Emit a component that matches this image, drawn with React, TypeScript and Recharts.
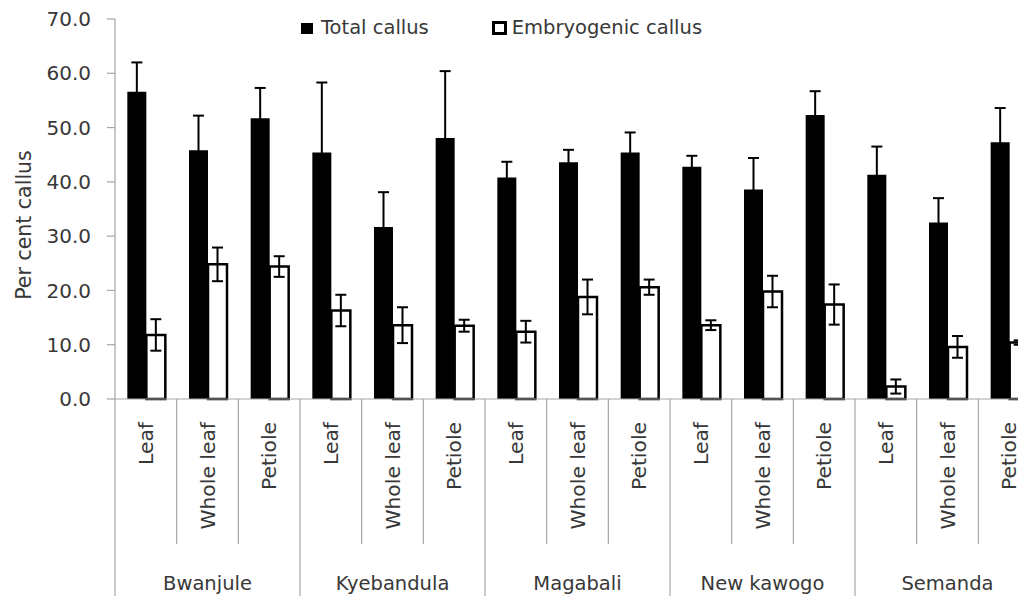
import { BarChart, Bar, ErrorBar, XAxis, YAxis, Legend } from 'recharts';

const groups = ['Bwanjule', 'Kyebandula', 'Magabali', 'New kawogo', 'Semanda'];
const explants = ['Leaf', 'Whole leaf', 'Petiole'];

// per cent callus, 15 bars in the order group x explant
const totalCallus = [56.6, 45.8, 51.7, 45.4, 31.7, 48.1, 40.8, 43.6, 45.4, 42.8, 38.6, 52.3, 41.3, 32.5, 47.3];
const totalErr = [5.4, 6.4, 5.6, 12.9, 6.4, 12.3, 2.9, 2.3, 3.7, 2.0, 5.8, 4.4, 5.2, 4.5, 6.3];
const embryoCallus = [11.8, 24.8, 24.4, 16.3, 13.6, 13.5, 12.4, 18.8, 20.6, 13.6, 19.8, 17.4, 2.3, 9.6, 10.4];
const embryoErr = [2.9, 3.1, 1.9, 2.9, 3.3, 1.1, 2.0, 3.2, 1.4, 0.9, 2.9, 3.7, 1.3, 2.0, 0.4];

const yTicks = [0, 10, 20, 30, 40, 50, 60, 70];

const rows = totalCallus.map((v, i) => ({
  name: explants[i % 3],
  group: groups[Math.floor(i / 3)],
  total: v,
  totalErr: totalErr[i],
  embryo: embryoCallus[i],
  embryoErr: embryoErr[i],
}));

const FONT = '"DejaVu Sans", sans-serif';
const TEXT = '#383838';
const AXIS = '#a6a6a6';

const CHART_W = 1040;
const CHART_H = 596;
const Y_AXIS_W = 115;
const BAND = (CHART_W - Y_AXIS_W) / rows.length;

const CategoryTick = (props: any) => {
  const { x, y, payload, index } = props;
  const left = x - BAND / 2;
  const first = index % 3 === 0;
  const ly = y + 23;
  return (
    <g>
      <line x1={left} y1={y} x2={left} y2={first ? y + 200 : y + 145} stroke={AXIS} strokeWidth={1.2} />
      <text
        x={x}
        y={ly}
        transform={`rotate(-90, ${x}, ${ly})`}
        textAnchor="end"
        dy="0.35em"
        fill={TEXT}
        fontSize={20.3}
        fontFamily={FONT}
      >
        {payload.value}
      </text>
      {index % 3 === 1 && (
        <text x={x} y={y + 191} textAnchor="middle" fill={TEXT} fontSize={19.5} fontFamily={FONT}>
          {rows[index].group}
        </text>
      )}
    </g>
  );
};

const YTitle = (props: any) => {
  const vb = props.viewBox || { x: 0, y: 19, height: 380 };
  const cx = 24;
  const cy = vb.y + vb.height / 2 + 16;
  return (
    <text
      x={cx}
      y={cy}
      transform={`rotate(-90, ${cx}, ${cy})`}
      textAnchor="middle"
      dy="0.35em"
      fill={TEXT}
      fontSize={20.5}
      fontFamily={FONT}
    >
      Per cent callus
    </text>
  );
};

const renderLegend = () => (
  <div style={{ display: 'flex', alignItems: 'center', fontFamily: FONT, fontSize: 19.5, color: TEXT, lineHeight: '20px' }}>
    <span style={{ width: 12, height: 11, background: '#000', display: 'inline-block', marginRight: 8 }} />
    <span>Total callus</span>
    <span
      style={{
        width: 9,
        height: 8,
        border: '3.5px solid #000',
        background: '#fff',
        display: 'inline-block',
        marginLeft: 63,
        marginRight: 5,
      }}
    />
    <span>Embryogenic callus</span>
  </div>
);

export default function App() {
  return (
    <div
      style={{
        position: 'absolute',
        left: 0,
        top: 0,
        width: 1018,
        height: 596,
        overflow: 'hidden',
        background: '#fff',
      }}
    >
      <BarChart
        width={CHART_W}
        height={CHART_H}
        data={rows}
        margin={{ top: 19, right: 0, left: 0, bottom: 0 }}
        barCategoryGap="20%"
        barGap={0}
      >
        <XAxis
          dataKey="name"
          interval={0}
          height={197}
          tickSize={0}
          tickMargin={0}
          tickLine={false}
          axisLine={{ stroke: AXIS, strokeWidth: 1.2 }}
          tick={<CategoryTick />}
        />
        <YAxis
          width={Y_AXIS_W}
          domain={[0, 70]}
          ticks={yTicks}
          tickFormatter={(v: number) => v.toFixed(1)}
          tickSize={8}
          tickMargin={16}
          axisLine={{ stroke: AXIS, strokeWidth: 1.2 }}
          tickLine={{ stroke: AXIS, strokeWidth: 1.2 }}
          tick={{ fill: TEXT, fontSize: 20, fontFamily: FONT }}
          label={<YTitle />}
        />
        <Legend
          layout="horizontal"
          verticalAlign="middle"
          align="center"
          wrapperStyle={{ top: 18, left: 301, width: 460 }}
          content={renderLegend}
        />
        <Bar dataKey="total" fill="#000" isAnimationActive={false}>
          <ErrorBar dataKey="totalErr" width={5.5} strokeWidth={2} stroke="#000" />
        </Bar>
        <Bar dataKey="embryo" fill="#fff" stroke="#000" strokeWidth={2.5} isAnimationActive={false}>
          <ErrorBar dataKey="embryoErr" width={5.5} strokeWidth={2} stroke="#000" />
        </Bar>
      </BarChart>
    </div>
  );
}
